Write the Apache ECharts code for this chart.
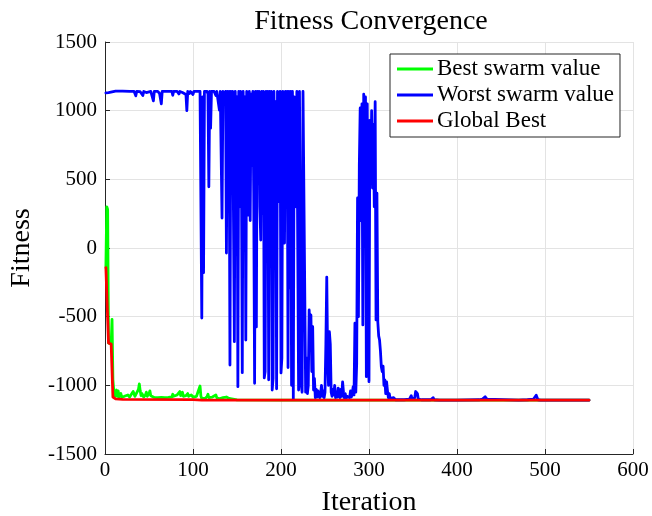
<!DOCTYPE html>
<html>
<head>
<meta charset="utf-8">
<script src="https://cdn.jsdelivr.net/npm/echarts@6/dist/echarts.min.js"></script>
<style>
  html, body { margin: 0; padding: 0; background: #fff; }
  #chart { width: 652px; height: 516px; }
</style>
</head>
<body>
<div id="chart"></div>
<script>
// Axis ticks
const xTicks = [0, 100, 200, 300, 400, 500, 600];
const yTicks = [-1500, -1000, -500, 0, 500, 1000, 1500];

// Series labels
const seriesNames = ['Best swarm value', 'Worst swarm value', 'Global Best'];

// Best fitness in the swarm at each iteration: [iteration, fitness]
const bestSwarm = [
  [1,-143],[2,300],[3,280],[4,-692],[5,-700],[6,-700],[7,-700],[8,-520],[9,-960],[10,-1040],
  [11,-1080],[12,-1060],[13,-1034],[14,-1080],[15,-1040],[16,-1085],[17,-1075],[18,-1060],[19,-1085],[20,-1090],
  [22,-1080],[24,-1088],[26,-1070],[28,-1085],[30,-1075],[32,-1045],[34,-1080],[36,-1070],[38,-1030],[39,-990],
  [40,-1040],[41,-1075],[42,-1060],[44,-1085],[46,-1070],[47,-1050],[48,-1080],[50,-1060],[51,-1040],[52,-1075],
  [54,-1070],[56,-1088],[58,-1085],[60,-1090],[62,-1080],[64,-1088],[66,-1085],[68,-1090],[70,-1080],[72,-1088],
  [74,-1075],[76,-1085],[77,-1065],[78,-1080],[80,-1085],[82,-1070],[84,-1080],[85,-1045],[86,-1075],[88,-1050],
  [89,-1080],[90,-1085],[92,-1075],[94,-1060],[95,-1080],[96,-1088],[98,-1070],[100,-1085],[102,-1090],[104,-1080],
  [106,-1085],[108,-1005],[109,-1080],[110,-1095],[112,-1085],[114,-1095],[116,-1080],[117,-1065],[118,-1090],[120,-1095],
  [122,-1085],[124,-1095],[126,-1070],[127,-1090],[130,-1098],[134,-1090],[136,-1100],[138,-1085],[140,-1075],[141,-1095],
  [143,-1105],[150,-1106],[200,-1107],[550,-1108]
];

// Worst fitness in the swarm at each iteration: [iteration, fitness]
const worstSwarm = [
  [1,1130],[2,1128],[3,1120],[4,1132],[5,1138],[6,1140],[12,1142],[20,1142],[28,1140],[33,1140],
  [34,1125],[35,1108],[36,1140],[40,1138],[42,1140],[43,1110],[44,1140],[47,1132],[48,1140],[52,1140],
  [53,1128],[55,1072],[56,1140],[58,1130],[60,1140],[62,1125],[64,1050],[65,1140],[68,1140],[70,1135],
  [72,1140],[76,1140],[77,1112],[78,1140],[82,1140],[84,1122],[85,1140],[88,1132],[90,1140],[92,1118],
  [93,1000],[94,1140],[96,1125],[97,1140],[100,1118],[101,1140],[104,1140],[105,1128],[106,1140],[108,1140],
  [109,1140],[110,-510],[111,1100],[112,-180],[113,1140],[114,1130],[115,1140],[116,1140],[117,1120],[118,446],
  [119,1140],[120,873],[121,1140],[122,1140],[123,1130],[124,1140],[125,1140],[126,1110],[127,1140],[128,1140],
  [129,1140],[130,1005],[131,1140],[132,1140],[133,218],[134,1140],[135,1140],[136,1100],[137,1140],[138,-37],
  [139,1140],[140,600],[141,1140],[142,-852],[143,1140],[144,400],[145,1140],[146,1140],[147,-682],[148,1140],
  [149,500],[150,1100],[151,-1010],[152,1140],[153,300],[154,1140],[155,650],[156,-908],[157,1140],[158,450],
  [159,1100],[160,-670],[161,1140],[162,550],[163,240],[164,1140],[165,200],[166,1120],[167,600],[168,1140],
  [169,400],[170,-985],[171,1140],[172,-575],[173,1140],[174,500],[175,1140],[176,300],[177,58],[178,1140],
  [179,250],[180,1140],[181,-946],[182,-900],[183,1140],[184,500],[185,1140],[186,-960],[187,1140],[188,350],
  [189,1140],[190,-1034],[191,-950],[192,1140],[193,400],[194,1065],[195,-1025],[196,1140],[197,600],[198,337],
  [199,1140],[200,-910],[201,-800],[202,1140],[203,500],[204,36],[205,1140],[206,400],[207,1140],[208,-870],
  [209,1140],[210,-290],[211,1140],[212,-1000],[213,1140],[214,-1100],[215,1100],[216,992],[217,300],[218,1140],
  [219,1140],[220,-1034],[221,1140],[222,1140],[223,-1000],[224,-1050],[225,1140],[226,1140],[227,1140],[228,-1050],
  [229,-800],[230,-1060],[231,-1000],[232,-451],[233,-600],[234,-488],[235,-900],[236,-573],[237,-1034],[238,-950],
  [239,-1090],[240,-1030],[241,-1085],[242,-1040],[243,-1060],[244,-1090],[245,-1060],[246,-1000],[247,-1080],[248,-1040],
  [249,-1090],[250,-1050],[251,-700],[252,-212],[253,-800],[254,-1000],[255,-610],[256,-700],[257,-1050],[258,-1080],
  [259,-1030],[260,-1070],[261,-1000],[262,-1090],[263,-1050],[264,-1085],[265,-1020],[266,-1060],[267,-1090],[268,-1030],
  [269,-1080],[270,-975],[271,-1050],[272,-1090],[273,-1060],[274,-1095],[275,-1080],[276,-1090],[277,-1070],[278,-1090],
  [279,-1040],[280,-1085],[281,-1060],[282,-1010],[283,-1070],[284,-548],[285,-1050],[286,-840],[287,364],[288,-500],
  [289,600],[290,1020],[291,200],[292,1050],[293,-560],[294,1120],[295,700],[296,1100],[297,-937],[298,1050],
  [299,-300],[300,-973],[301,930],[302,500],[303,1000],[304,437],[305,900],[306,300],[307,1065],[308,-524],
  [309,400],[310,-537],[311,-640],[312,-670],[313,-750],[314,-864],[315,-900],[316,-860],[317,-1000],[318,-960],
  [319,-1060],[320,-975],[321,-1040],[322,-1090],[323,-1060],[324,-1095],[325,-1085],[326,-1100],[328,-1090],[330,-1105],
  [340,-1105],[346,-1100],[347,-1095],[348,-1075],[349,-1100],[352,-1090],[353,-1045],[354,-1034],[355,-1060],[356,-1100],
  [360,-1105],[370,-1105],[372,-1100],[373,-1090],[374,-1105],[380,-1108],[400,-1108],[425,-1105],[429,-1100],[430,-1095],
  [432,-1083],[434,-1100],[436,-1108],[470,-1108],[480,-1105],[487,-1100],[489,-1090],[490,-1072],[491,-1085],[492,-1105],
  [495,-1108],[550,-1108]
];

// Best fitness found so far: [iteration, fitness]
const globalBest = [
  [1,-143],[2,-150],[4,-692],[7,-700],[9,-1085],[12,-1098],[20,-1102],[100,-1104],[110,-1108],[550,-1108]
];

const serif = '"Liberation Serif", "DejaVu Serif", serif';
const axisColor = '#262626';
const gridColor = '#e3e3e3';

const chart = echarts.init(document.getElementById('chart'), null, { renderer: 'canvas' });

function lineSeries(name, data, color) {
  return {
    name: name,
    type: 'line',
    data: data,
    showSymbol: false,
    symbol: 'none',
    animation: false,
    lineStyle: { color: color, width: 2.8, join: 'round', cap: 'round' },
    itemStyle: { color: color },
    emphasis: { disabled: true }
  };
}

chart.setOption({
  backgroundColor: '#ffffff',
  animation: false,
  title: {
    text: 'Fitness Convergence',
    left: 366,
    top: 3,
    textAlign: 'center',
    textStyle: { fontFamily: serif, fontWeight: 'normal', fontSize: 28, color: '#000' }
  },
  grid: { left: 105, right: 19, top: 42, bottom: 62, containLabel: false, outerBoundsMode: 'none' },
  legend: {
    orient: 'vertical',
    left: 390,
    top: 54,
    itemWidth: 36,
    itemHeight: 3,
    itemGap: 0,
    icon: 'rect',
    padding: [2, 6, 3, 7],
    backgroundColor: '#ffffff',
    borderColor: '#262626',
    borderWidth: 1,
    borderRadius: 0,
    textStyle: { fontFamily: serif, fontSize: 23, color: '#000', lineHeight: 26, padding: [0, 0, 0, -1] },
    data: seriesNames
  },
  xAxis: {
    type: 'value',
    min: xTicks[0],
    max: xTicks[xTicks.length - 1],
    interval: 100,
    name: 'Iteration',
    nameLocation: 'middle',
    nameGap: 35,
    nameTextStyle: { fontFamily: serif, fontSize: 28, color: '#000' },
    axisLine: { show: true, onZero: false, lineStyle: { color: axisColor, width: 1 } },
    axisTick: { show: true, inside: true, length: 5, lineStyle: { color: axisColor } },
    axisLabel: { fontFamily: serif, fontSize: 21, color: '#000', margin: 6, formatter: v => String(v) },
    splitLine: { show: true, lineStyle: { color: gridColor, width: 1 } }
  },
  yAxis: {
    type: 'value',
    min: yTicks[0],
    max: yTicks[yTicks.length - 1],
    interval: 500,
    name: 'Fitness',
    nameLocation: 'middle',
    nameRotate: 90,
    nameGap: 69,
    nameTextStyle: { fontFamily: serif, fontSize: 28, color: '#000' },
    axisLine: { show: true, onZero: false, lineStyle: { color: axisColor, width: 1 } },
    axisTick: { show: true, inside: true, length: 5, lineStyle: { color: axisColor } },
    axisLabel: { fontFamily: serif, fontSize: 21, color: '#000', margin: 8, formatter: v => String(v) },
    splitLine: { show: true, lineStyle: { color: gridColor, width: 1 } }
  },
  series: [
    lineSeries(seriesNames[0], bestSwarm, '#00ff00'),
    lineSeries(seriesNames[1], worstSwarm, '#0000ff'),
    lineSeries(seriesNames[2], globalBest, '#ff0000')
  ]
});
</script>
</body>
</html>
